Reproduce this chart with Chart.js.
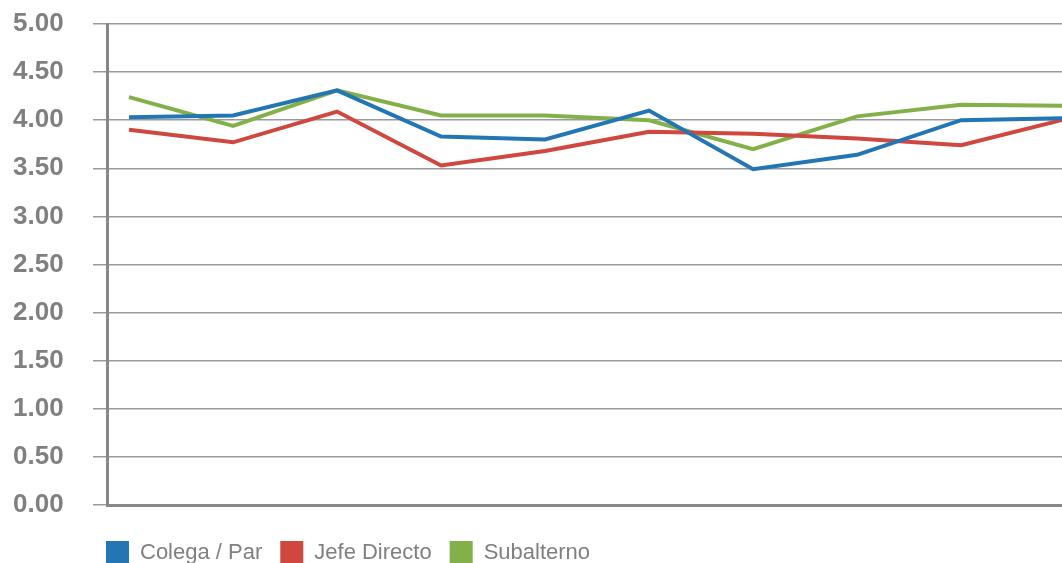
<!DOCTYPE html>
<html>
<head>
<meta charset="utf-8">
<script src="https://cdn.jsdelivr.net/npm/chart.js@4"></script>
<style>
html,body{margin:0;padding:0;background:#fff;overflow:hidden;}
#wrap{position:relative;width:1062px;height:574px;}
</style>
</head>
<body>
<div id="wrap"><canvas id="c"></canvas></div>
<script>
const categories = [0,1,2,3,4,5,6,7,8,9];
const colegaPar   = [4.03,4.05,4.31,3.83,3.80,4.10,3.49,3.64,4.00,4.02];
const jefeDirecto = [3.90,3.77,4.09,3.53,3.68,3.88,3.86,3.81,3.74,4.01];
const subalterno  = [4.24,3.94,4.31,4.05,4.05,4.00,3.70,4.04,4.16,4.15];
const yTicks = [0,0.5,1,1.5,2,2.5,3,3.5,4,4.5,5];
const seriesNames = ['Colega / Par','Jefe Directo','Subalterno'];
const seriesColors = ['#2376b3','#d0473f','#84b04a'];

const toPts = arr => arr.map((v,i)=>({x:categories[i], y:v}));
const grey = '#808083';
const LEG_PAD = 18;

const legendShift = {
  id: 'legendShift',
  afterLayout(chart) {
    if (chart.legend) chart.legend.left = chart.chartArea.left - LEG_PAD - 1;
  }
};

new Chart(document.getElementById('c'), {
  type: 'line',
  data: {
    datasets: [colegaPar, jefeDirecto, subalterno].map((arr,i)=>({
      label: seriesNames[i],
      data: toPts(arr),
      borderColor: seriesColors[i],
      backgroundColor: seriesColors[i],
      borderWidth: 4,
      pointRadius: 0,
      tension: 0,
      fill: false
    }))
  },
  plugins: [legendShift],
  options: {
    responsive: true,
    maintainAspectRatio: false,
    animation: false,
    layout: { padding: { left: 13, right: 0, top: 24, bottom: 0 } },
    plugins: {
      tooltip: { enabled: false },
      legend: {
        position: 'bottom',
        align: 'start',
        labels: {
          boxWidth: 23,
          boxHeight: 23,
          padding: LEG_PAD,
          color: grey,
          font: { family: "'Liberation Sans',Arial,sans-serif", size: 22 },
          generateLabels: (chart) => Chart.defaults.plugins.legend.labels.generateLabels(chart).map(l => Object.assign(l, {lineWidth: 0}))
        }
      }
    },
    scales: {
      x: {
        type: 'linear',
        min: -0.212,
        max: 8.97,
        ticks: { display: false },
        grid: { display: false },
        border: { display: true, color: '#88888b', width: 3 },
        afterFit: s => { s.height = 18; }
      },
      y: {
        min: 0,
        max: 5,
        afterBuildTicks: s => { s.ticks = yTicks.map(v=>({value:v})); },
        afterFit: s => { s.width = 107 - 13; },
        ticks: {
          padding: 0,
          crossAlign: 'far',
          color: grey,
          font: { family: "'Liberation Sans',Arial,sans-serif", size: 26, weight: 'bold' },
          callback: v => Number(v).toFixed(2)
        },
        grid: { color: '#9a9a9d', lineWidth: 1.5, tickLength: 14 },
        border: { display: true, color: '#88888b', width: 3 }
      }
    }
  }
});
</script>
</body>
</html>
